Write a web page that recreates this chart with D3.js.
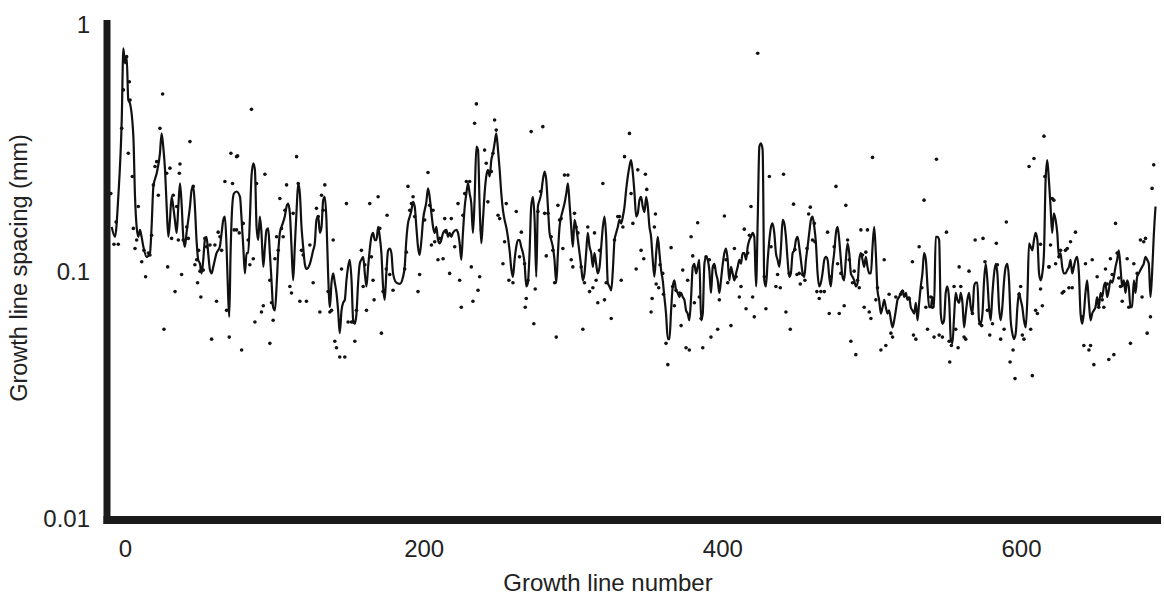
<!DOCTYPE html>
<html>
<head>
<meta charset="utf-8">
<script src="https://cdn.jsdelivr.net/npm/d3@7"></script>
<style>
  body { margin: 0; background: #fff; }
  svg text { font-family: "Liberation Sans", Arial, sans-serif; fill: #222; }
</style>
</head>
<body>
<div id="chart"></div>
<script>
// tick labels
const xTicks = [0, 200, 400, 600];
const yTicks = [0.01, 0.1, 1];

// smoothed growth line spacing [growth line number, spacing mm]
const smoothed = [
  [-8.9,.148],[-6.7,.135],[-4.5,.196],[-2.2,.401],[-1.1,.782],[0,.68],[1.1,.724],[2.2,.483],[3.3,.469],[5.6,.343],[6.7,.196],[7.8,.148],[8.9,.135],[10,.144],[11.1,.135],[12.3,.123],[14.5,.112],[16.7,.116],[17.8,.148],[19,.216],[21.2,.244],[23.4,.294],[24.5,.354],[25.6,.313],[26.8,.252],[27.9,.179],[29,.135],[30.1,.158],[31.2,.196],[32.3,.179],[33.4,.158],[34.6,.14],[35.7,.179],[36.8,.222],[37.9,.184],[39,.135],[40.1,.123],[41.2,.14],[43.5,.179],[44.6,.209],[45.7,.216],[46.8,.179],[47.9,.131],[49,.109],[50.2,.105],[51.3,.096],[52.4,.109],[53.5,.131],[54.6,.135],[55.7,.116],[56.9,.099],[58,.096],[59.1,.102],[61.3,.116],[63.5,.123],[64.7,.14],[65.8,.158],[66.9,.163],[68,.123],[69.1,.077],[69.8,.064],[70.7,.116],[71.8,.179],[72.9,.202],[74.7,.206],[77,.196],
  [78.1,.158],[79.2,.123],[80.3,.096],[81.4,.116],[82.5,.116],[83.6,.158],[84.7,.237],[85.9,.268],[87,.252],[88.1,.148],[89.2,.131],[90.3,.163],[91.4,.14],[92.6,.102],[93.7,.123],[94.8,.144],[95.9,.146],[97,.116],[98.1,.09],[99.2,.07],[100.4,.068],[101.5,.085],[102.6,.116],[103.7,.14],[104.8,.148],[107,.163],[108.2,.179],[109.3,.184],[110.4,.168],[111.5,.123],[112.6,.09],[113.7,.123],[114.9,.173],[116,.222],[117.1,.202],[118.2,.148],[119.3,.123],[120.4,.105],[121.5,.1],[123.8,.105],[126,.119],[127.1,.127],[128.2,.158],[129.4,.163],[130.5,.14],[131.6,.148],[132.7,.19],[133.8,.196],[134.9,.158],[136,.096],[137.2,.07],[138.3,.088],[139.4,.096],[140.5,.088],[141.6,.08],[142.7,.068],[143.8,.055],[145,.068],[146.1,.073],[147.2,.075],[148.3,.09],[149.4,.102],[150.5,.109],[151.7,.09],[152.8,.062],[153.9,.06],[155,.066],[156.1,.088],[157.2,.105],[158.3,.109],[159.5,.112],[160.6,.096],[161.7,.085],[162.8,.102],[165,.135],[166.1,.14],[167.3,.131],
  [168.4,.131],[169.5,.148],[170.6,.135],[171.7,.116],[172.8,.085],[173.9,.075],[175,.096],[176.2,.119],[177.3,.121],[178.4,.116],[179.5,.096],[181.7,.088],[184,.087],[186.2,.093],[187.3,.102],[188.4,.131],[189.5,.153],[190.7,.163],[191.8,.173],[192.9,.187],[194,.179],[195.1,.148],[196.2,.123],[197.3,.114],[198.5,.131],[199.6,.158],[201.8,.187],[202.9,.212],[204,.196],[205.2,.168],[206.3,.148],[207.4,.14],[208.5,.148],[209.6,.131],[210.7,.127],[211.8,.131],[213,.14],[215.2,.144],[216.3,.135],[217.4,.14],[218.5,.135],[219.6,.14],[221.9,.144],[223,.14],[224.1,.127],[225.2,.109],[226.3,.14],[227.5,.179],[228.6,.202],[229.7,.222],[230.8,.202],[231.9,.184],[233,.14],[234.1,.19],[235.3,.313],[236.4,.303],[237.5,.179],[238.6,.127],[239.7,.158],[240.8,.202],[241.9,.237],[243,.252],[244.2,.237],[245.3,.276],[246.4,.294],[247.5,.323],[248.6,.354],[249.8,.303],[250.9,.252],[252,.202],[253.1,.173],[254.2,.158],[255.3,.148],[256.4,.135],[257.6,.118],
  [258.7,.1],[259.8,.093],[260.9,.109],[262,.123],[263.1,.131],[264.2,.131],[265.3,.123],[266.5,.116],[267.6,.105],[268.7,.085],[269.8,.088],[270.9,.116],[272,.179],[273.2,.196],[274.3,.158],[275.4,.093],[276.5,.179],[277.6,.19],[278.7,.202],[279.8,.229],[281,.248],[282.1,.229],[283.2,.179],[284.3,.14],[285.4,.131],[286.5,.123],[287.6,.109],[288.8,.088],[289.9,.116],[291,.148],[292.1,.163],[293.2,.173],[294.3,.184],[295.5,.202],[296.6,.222],[297.7,.184],[298.8,.148],[299.9,.123],[301,.158],[302.1,.148],[303.3,.131],[304.4,.116],[305.5,.102],[306.6,.09],[307.7,.096],[308.8,.116],[309.9,.14],[311.1,.123],[312.2,.116],[313.3,.102],[314.4,.116],[315.5,.105],[316.6,.096],[317.8,.102],[318.9,.123],[320,.148],[321.1,.163],[322.2,.135],[323.3,.088],[324.4,.085],[325.6,.082],[326.7,.099],[327.8,.131],[328.9,.14],[330,.148],[331.1,.158],[332.2,.153],[333.4,.163],[334.5,.179],[335.6,.209],[336.7,.237],[337.8,.26],[338.9,.276],[340.1,.244],[341.2,.202],[342.3,.163],[343.4,.168],[344.5,.19],[345.6,.196],[346.7,.179],[347.9,.17],
  [349,.196],[350.1,.179],[351.2,.148],[352.3,.135],[353.4,.109],[354.5,.093],[355.7,.116],[356.8,.135],[357.9,.116],[359,.099],[360.1,.09],[361.2,.077],[362.3,.066],[363.5,.052],[364.6,.052],[365.7,.068],[366.8,.085],[367.9,.09],[369,.082],[370.1,.08],[371.3,.077],[372.4,.08],[373.5,.077],[374.6,.075],[375.7,.068],[376.8,.066],[377.9,.062],[379.1,.077],[380.2,.102],[381.3,.105],[382.4,.096],[383.5,.102],[384.6,.109],[385.8,.062],[386.9,.066],[388,.105],[389.1,.112],[390.2,.109],[391.3,.099],[392.4,.08],[393.6,.102],[394.7,.105],[395.8,.096],[396.9,.09],[398,.08],[399.1,.09],[400.3,.105],[401.4,.116],[402.5,.121],[403.6,.109],[404.7,.09],[405.8,.102],[406.9,.096],[408.1,.09],[409.2,.096],[410.3,.102],[411.4,.109],[412.5,.105],[413.6,.116],[414.7,.116],[415.9,.109],[417,.123],[418.1,.131],[419.2,.135],[420.3,.14],[421.4,.135],[422.6,.085],[423.7,.158],[424.8,.313],[425.9,.323],[427,.303],[428.1,.09],[429.2,.085],[430.4,.109],[431.5,.131],[432.6,.148],[433.7,.153],[434.8,.14],[435.9,.116],[437,.109],[438.2,.102],
  [439.3,.123],[440.4,.158],[441.5,.153],[442.6,.135],[443.7,.109],[444.8,.093],[445.9,.096],[447.1,.116],[448.2,.119],[449.3,.131],[450.4,.135],[451.5,.123],[452.6,.109],[453.8,.096],[454.9,.093],[456,.109],[457.1,.123],[458.2,.14],[459.3,.158],[460.4,.163],[461.6,.148],[462.7,.127],[463.8,.096],[464.9,.085],[466,.088],[467.1,.096],[468.3,.109],[469.4,.112],[470.5,.109],[471.6,.093],[472.7,.085],[473.8,.102],[474.9,.116],[476.1,.14],[477.2,.148],[478.3,.131],[479.4,.109],[480.5,.093],[481.6,.09],[482.7,.109],[483.9,.127],[485,.116],[486.1,.096],[487.2,.093],[488.3,.09],[489.4,.085],[490.6,.088],[491.7,.109],[492.8,.116],[493.9,.109],[495,.102],[496.1,.112],[497.2,.102],[498.4,.096],[499.5,.096],[500.6,.123],[501.7,.148],[502.8,.116],[503.9,.082],[505,.075],[506.2,.066],[507.3,.07],[508.4,.075],[509.5,.07],[510.6,.066],[511.7,.068],[512.9,.062],[514,.058],[515.1,.062],[516.2,.068],[517.3,.075],[518.4,.077],[519.5,.08],[520.7,.082],[521.8,.077],[522.9,.08],[524,.075],[525.1,.077],[526.2,.07],[527.3,.068],[528.5,.066],
  [529.6,.073],[530.7,.062],[531.8,.073],[532.9,.085],[534,.096],[535.1,.116],[536.3,.109],[537.4,.085],[538.5,.07],[539.6,.07],[540.7,.077],[541.8,.07],[542.9,.135],[544.1,.135],[545.2,.131],[546.3,.066],[547.4,.06],[548.5,.062],[549.6,.08],[550.7,.085],[551.9,.075],[553,.052],[554.1,.05],[555.2,.064],[556.3,.08],[557.4,.075],[558.6,.073],[559.7,.08],[560.8,.073],[561.9,.058],[563,.066],[564.1,.075],[565.2,.08],[566.4,.07],[567.5,.066],[568.6,.085],[569.7,.088],[570.8,.088],[571.9,.062],[573,.06],[574.2,.066],[575.3,.09],[576.4,.105],[577.5,.09],[578.6,.07],[579.7,.062],[580.9,.08],[582,.096],[583.1,.105],[584.2,.096],[585.3,.07],[586.4,.062],[587.5,.07],[588.7,.09],[589.8,.102],[590.9,.105],[592,.09],[593.1,.062],[594.2,.055],[595.3,.052],[596.5,.055],[597.6,.07],[598.7,.08],[599.8,.075],[600.9,.07],[602,.062],[603.2,.058],[604.3,.077],[605.4,.127],[606.5,.123],[607.6,.119],[608.7,.131],[609.8,.14],[611,.131],[612.1,.096],[613.2,.09],[614.3,.096],[615.4,.116],[616.5,.229],[617.6,.276],
  [618.7,.229],[619.8,.179],[620.9,.14],[622,.168],[623.2,.158],[624.3,.14],[625.4,.112],[626.5,.116],[627.6,.102],[628.7,.096],[629.8,.096],[631,.099],[632.1,.102],[633.2,.109],[634.3,.096],[635.4,.102],[636.5,.109],[637.6,.112],[638.8,.096],[639.9,.066],[641,.06],[642.1,.066],[643.2,.08],[644.3,.09],[645.5,.073],[646.6,.062],[647.7,.066],[648.8,.068],[649.9,.07],[651,.077],[652.1,.07],[653.3,.08],[654.4,.077],[655.5,.085],[656.6,.088],[657.7,.077],[658.8,.082],[659.9,.09],[661.1,.088],[662.2,.093],[663.3,.102],[664.4,.109],[665.5,.119],[666.6,.102],[667.8,.085],[668.9,.09],[670,.08],[671.1,.09],[672.2,.085],[673.3,.07],[674.4,.07],[675.6,.09],[676.7,.08],[677.8,.093],[678.9,.096],[680,.099],[681.1,.102],[682.2,.105],[683.4,.112],[684.5,.109],[685.6,.105],[686.7,.077],[687.8,.096],[688.9,.135],[690.1,.179]
];

// measured spacings (dots) [growth line number, spacing mm]
const measured = [
  [-9.5,.202],[-6,.155],[-7.4,.126],[-4.5,.126],[-2.2,.371],[-1.1,.531],[1.1,.724],[2.9,.573],[2.2,.294],[3.4,.483],[4.9,.237],[5.6,.146],[6.7,.121],[7.8,.131],[8.9,.179],[11.2,.107],[12.7,.119],[13.8,.093],[15.6,.116],[16.7,.114],[17.8,.137],[19,.219],[20.1,.26],[21.2,.272],[22.3,.199],[23.4,.371],[25.2,.511],[26.1,.057],[27.9,.244],[28.6,.102],[30.1,.256],[31.2,.133],[32.3,.199],[33.5,.081],[34.6,.179],[35.7,.131],[36.4,.244],[36.8,.266],[37.9,.095],[39,.131],[41.3,.148],[42.4,.133],[43.5,.328],[45.7,.216],[46.8,.104],[48,.109],[48.6,.088],[49.3,.119],[50.2,.098],[50.8,.077],[52.4,.099],[53.5,.133],[54.6,.123],[56.9,.125],[58,.052],[60.2,.125],[61.3,.074],[62.4,.141],[63.6,.135],[64.7,.119],[66.9,.226],[68,.068],[69.8,.053],[70.9,.294],[72,.222],[73.1,.144],[74.7,.285],[76.5,.14],
  [75.4,.287],[84.7,.443],[78.1,.047],[74.7,.144],[79.2,.153],[82.5,.131],[83.6,.104],[85.9,.11],[88.1,.222],[93.7,.242],[92.6,.071],[91.4,.067],[87,.061],[97,.05],[98.1,.073],[99.2,.062],[97,.09],[100.4,.11],[101.5,.135],[102.6,.119],[103.7,.193],[104.8,.146],[105.9,.135],[107.1,.173],[108.2,.219],[110.4,.085],[111.5,.08],[112.6,.168],[114.9,.285],[116,.222],[117.1,.074],[118.2,.119],[119.3,.114],[121.5,.074],[123.8,.125],[126,.088],[128.2,.176],[129.4,.163],[130.5,.067],[131.6,.199],[132.7,.173],[133.8,.219],[136,.081],[137.2,.067],[138.3,.068],[139.4,.131],[140.5,.051],[141.6,.048],[143.8,.044],[145,.1],[147.2,.044],[148.3,.184],[149.4,.061],[151.7,.061],[152.8,.061],[153.9,.051],[155,.068],[158.3,.119],[159.5,.085],[160.6,.104],[161.7,.068],[163.9,.184],[165,.112],[166.1,.09],[166.8,.075],
  [169.5,.196],[175.5,.165],[170.6,.146],[171.7,.055],[172.8,.081],[175,.1],[177.3,.095],[179.5,.082],[187.3,.1],[188.4,.117],[189.5,.216],[190.7,.173],[191.8,.184],[192.9,.196],[194,.163],[196.2,.081],[197.3,.095],[200.7,.158],[202.9,.246],[204,.181],[205.2,.125],[206.3,.173],[207.4,.129],[209.6,.109],[210.7,.133],[213,.11],[214.1,.16],[215.2,.141],[217.4,.096],[218.5,.16],[220.8,.123],[223,.184],[224.1,.09],[225.2,.07],[226.3,.165],[227.5,.202],[228.6,.226],[230.8,.226],[231.9,.102],[233,.074],[234.1,.389],[235.3,.466],[236.4,.082],[237.5,.093],[238.6,.144],[240.8,.303],[241.9,.268],[243,.187],[245.3,.248],[246.4,.294],[247.5,.401],[248.6,.365],[249.8,.165],[250.9,.16],[253.1,.105],[254.2,.129],[255.3,.184],[257.1,.09],
  [259.8,.088],[262,.171],[264.2,.112],[265.4,.141],[267.6,.105],[268.7,.076],[268,.07],[269.8,.09],[272,.36],[273.8,.06],[274.7,.083],[276.5,.171],[278.3,.206],[279.8,.377],[281,.168],[282.1,.113],[283.2,.168],[285.4,.135],[286.5,.119],[287.7,.088],[288.8,.053],[289.9,.181],[291,.158],[292.1,.16],[293.2,.121],[294.3,.24],[296.6,.24],[298.8,.109],[299.9,.102],[301,.168],[302.1,.148],[303.3,.14],[305.5,.102],[306.6,.057],[307.7,.088],[309.9,.148],[311.1,.081],[313.3,.084],[314.4,.14],[315.5,.09],[316.6,.073],[317.8,.119],[320,.222],[321.1,.075],[322.2,.088],[325.6,.063],[327.8,.131],[330,.163],[331.1,.163],[332.3,.09],[333.4,.148],[334.5,.285],[337.8,.354],[338.9,.202],[340.1,.153],[342.3,.1],[343.4,.252],[345.6,.119],[347.4,.11],
  [348.5,.242],[349.4,.21],[355.2,.167],[354.5,.148],[353,.076],[352.3,.067],[355.7,.087],[357.4,.084],[358.3,.104],[360.1,.096],[360.6,.079],[362.3,.05],[363.5,.041],[365.7,.122],[366.8,.085],[367.9,.071],[369,.082],[371.3,.08],[372.4,.059],[373.5,.099],[375.7,.048],[377.9,.047],[376.8,.09],[379.1,.135],[380.2,.113],[381.3,.073],[383.5,.154],[384.6,.077],[385.8,.063],[386.9,.048],[389.1,.112],[391.3,.109],[392.4,.053],[394.7,.102],[396.9,.057],[398,.075],[401.4,.164],[402.5,.109],[403.6,.088],[405.8,.059],[408.1,.121],[409.2,.093],[411.4,.077],[412.5,.085],[414.7,.145],[415.9,.069],[417,.116],[418.1,.137],[419.2,.179],[420.3,.077],[421.4,.064],[423.7,.747],[428.1,.093],[429.2,.069],[431.5,.237],[432.6,.123],[435.9,.085],[437,.095],
  [441,.242],[438.8,.084],[442.6,.067],[445.5,.057],[444.8,.096],[447.7,.183],[448.6,.12],[450,.095],[451.5,.096],[452.2,.087],[453.8,.095],[455.3,.09],[456.7,.121],[457.8,.167],[458.9,.178],[460.4,.131],[461.6,.153],[462,.129],[463.3,.081],[464.9,.076],[466,.081],[468.3,.081],[470.5,.141],[471.6,.066],[472.7,.093],[474.9,.123],[476.1,.216],[477.2,.105],[478.3,.066],[479.4,.096],[481.6,.071],[482.7,.181],[483.9,.131],[485,.109],[486.1,.051],[487.2,.088],[488.3,.098],[489.4,.045],[490.6,.09],[491.7,.084],[492.8,.144],[493.9,.114],[495,.07],[496.1,.117],[497.2,.144],[498.4,.067],[499.5,.063],[500.6,.283],[502.8,.075],[503.9,.084],[506.2,.047],[508.4,.109],[509.5,.049],[511.7,.079],[512.9,.055],[514,.053],[516.2,.077],[519.5,.079],[520.7,.081],[525.1,.076],[527.3,.107],[528,.054],
  [529.6,.052],[531.8,.123],[533.6,.084],[535.1,.19],[536.3,.07],[537.4,.057],[539.6,.077],[540.7,.07],[541.8,.053],[543.4,.278],[545.2,.054],[547.4,.053],[550.1,.141],[551.9,.051],[552.3,.042],[553.4,.049],[555.2,.085],[556.3,.057],[557.9,.048],[558.6,.102],[559.7,.085],[561.9,.053],[563,.052],[565.2,.098],[567.5,.066],[569.3,.131],[572.4,.06],[573.7,.059],[574.6,.133],[575.9,.107],[577.5,.068],[579.1,.054],[580.9,.06],[583.5,.127],[584.2,.104],[586.4,.052],[588.7,.057],[590.2,.155],[592.7,.042],[594.7,.047],[596,.036],[598.7,.079],[599.8,.085],[600.9,.054],[602,.052],[605.4,.26],[606.5,.057],[607.6,.037],[608.7,.28],[609.8,.068],[611,.066],[614.3,.071],[615.4,.345],[618.8,.102],
  [616,.237],[613.1,.126],[613.1,.083],[619.8,.125],[618.7,.102],[620.9,.193],[622,.19],[623.2,.105],[625.4,.112],[626.5,.119],[627.6,.08],[628.7,.081],[629.8,.119],[631,.121],[632.1,.084],[633.2,.129],[634.3,.084],[636.5,.141],[641,.064],[642.1,.049],[643.2,.105],[645.5,.047],[646.6,.049],[647.7,.109],[648.8,.041],[651,.093],[652.1,.07],[654.4,.075],[655.5,.07],[656.6,.1],[657.7,.087],[658.8,.043],[659.9,.11],[661.1,.095],[662.2,.045],[663.3,.153],[664.4,.116],[665.5,.092],[666.6,.085],[667.8,.074],[670,.087],[671.1,.11],[672.2,.07],[673.3,.05],[675.6,.105],[676.7,.085],[677.8,.096],[680,.131],[681.1,.077],[682.2,.129],[683.4,.133],[684.5,.055],[686.7,.064],[687.8,.212],[688.9,.264]
];

const width = 1164;
const height = 601;

const svg = d3.select("#chart")
  .append("svg")
  .attr("width", width)
  .attr("height", height);

// scales
let x = d3.scaleLinear().domain([-13.4, 693.1]).range([105, 1160]);
let y = d3.scaleLog().domain([0.01, 1]).range([516, 22]);

// tick labels only, axis lines drawn thick below
svg.append("g")
  .attr("transform", "translate(0,520)")
  .call(d3.axisBottom(x).tickValues(xTicks).tickSize(0).tickPadding(20).tickFormat(d3.format("d")))
  .call(g => g.select(".domain").remove())
  .selectAll("text")
  .style("font-size", "24px")
  .style("font-family", "'Liberation Sans', Arial, sans-serif")
  .attr("fill", "#222");

svg.append("g")
  .attr("transform", "translate(107,3)")
  .call(d3.axisLeft(y).tickValues(yTicks).tickSize(0).tickPadding(17).tickFormat(d => String(d)))
  .call(g => g.select(".domain").remove())
  .selectAll("text")
  .style("font-size", "24px")
  .style("font-family", "'Liberation Sans', Arial, sans-serif")
  .attr("fill", "#222");

// dots
svg.append("g")
  .selectAll("circle")
  .data(measured)
  .enter()
  .append("circle")
  .attr("cx", d => x(d[0]))
  .attr("cy", d => y(d[1]))
  .attr("r", 1.8)
  .attr("fill", "#111");

// smoothed line
let line = d3.line()
  .x(d => x(d[0]))
  .y(d => y(d[1]))
  .curve(d3.curveMonotoneX);

svg.append("path")
  .datum(smoothed)
  .attr("d", line)
  .attr("fill", "none")
  .attr("stroke", "#111")
  .attr("stroke-width", 2.2)
  .attr("stroke-linejoin", "round");

// thick axis lines
svg.append("line")
  .attr("x1", 107).attr("x2", 107)
  .attr("y1", 20).attr("y2", 524)
  .attr("stroke", "#1a1a1a")
  .attr("stroke-width", 7);

svg.append("line")
  .attr("x1", 103.5).attr("x2", 1161)
  .attr("y1", 520).attr("y2", 520)
  .attr("stroke", "#1a1a1a")
  .attr("stroke-width", 8);

// axis titles
svg.append("text")
  .attr("x", 608)
  .attr("y", 591)
  .attr("text-anchor", "middle")
  .style("font-size", "24px")
  .text("Growth line number");

svg.append("text")
  .attr("transform", "translate(27,268) rotate(-90)")
  .attr("text-anchor", "middle")
  .style("font-size", "23.5px")
  .text("Growth line spacing (mm)");
</script>
</body>
</html>
